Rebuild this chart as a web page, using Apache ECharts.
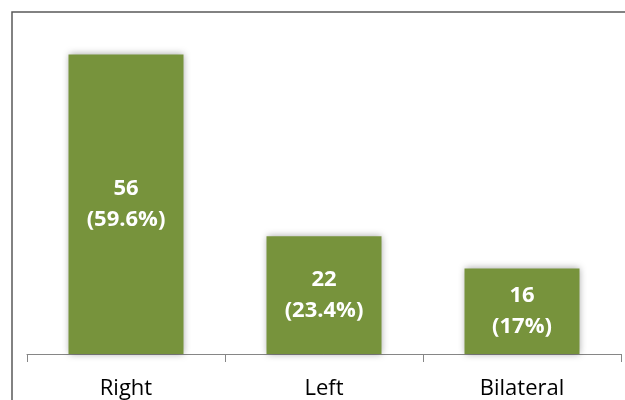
<!DOCTYPE html>
<html>
<head>
<meta charset="utf-8">
<script src="https://cdn.jsdelivr.net/npm/echarts@6/dist/echarts.min.js"></script>
<style>
  html, body { margin: 0; padding: 0; background: #fff; }
  #chart { width: 625px; height: 400px; }
</style>
</head>
<body>
<div id="chart"></div>
<script>
// Side of involvement
const categories = ['Right', 'Left', 'Bilateral'];
const counts = [56, 22, 16];
const percents = ['59.6%', '23.4%', '17%'];

const chart = echarts.init(document.getElementById('chart'));

chart.setOption({
  animation: false,
  graphic: [{
    type: 'rect',
    shape: { x: 12, y: 12, width: 640, height: 420 },
    style: { fill: 'none', stroke: '#595959', lineWidth: 1.5 },
    silent: true
  }],
  grid: { left: 27, right: 4, top: 33, bottom: 41 },
  xAxis: {
    type: 'category',
    data: categories,
    axisLine: { lineStyle: { color: '#868686', width: 1 } },
    axisTick: { show: true, length: 8, lineStyle: { color: '#868686' } },
    axisLabel: {
      color: '#000',
      fontSize: 22,
      fontFamily: 'Open Sans, Liberation Sans, sans-serif',
      margin: 24
    }
  },
  yAxis: {
    type: 'value',
    min: 0,
    max: 60,
    show: false,
    splitLine: { show: false }
  },
  series: [{
    type: 'bar',
    data: counts,
    barWidth: 115,
    itemStyle: {
      color: '#77933C',
      shadowColor: 'rgba(0,0,0,0.35)',
      shadowBlur: 7,
      shadowOffsetX: 0,
      shadowOffsetY: 0
    },
    label: {
      show: true,
      position: 'inside',
      color: '#fff',
      fontWeight: 'bold',
      fontSize: 22,
      lineHeight: 31,
      fontFamily: 'Open Sans, Liberation Sans, sans-serif',
      formatter: p => p.value + '\n(' + percents[p.dataIndex] + ')'
    }
  }]
});
</script>
</body>
</html>
